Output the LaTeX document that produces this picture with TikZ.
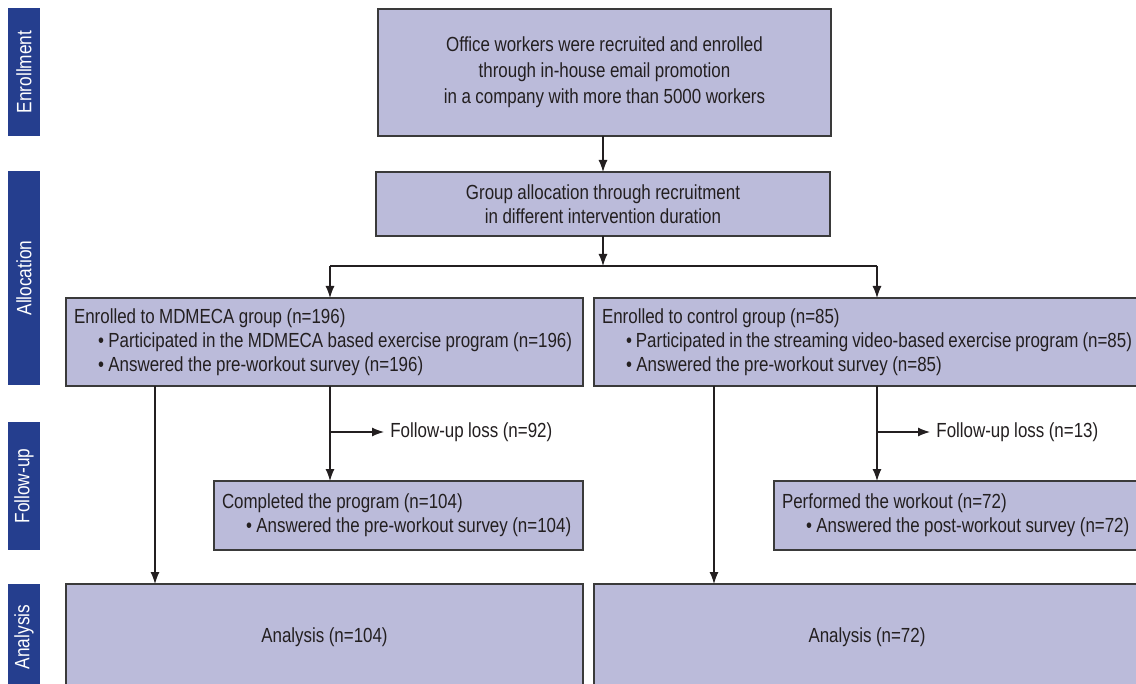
\documentclass[tikz,border=0pt]{standalone}
\usepackage{fontspec}
\setmainfont[FakeStretch=0.83, WordSpace=0.95]{Liberation Sans}
\usetikzlibrary{positioning,arrows.meta}
\definecolor{boxfill}{HTML}{BBBBDA}
\definecolor{boxline}{HTML}{3A3A3A}
\definecolor{stageblue}{HTML}{253E8E}
\definecolor{txt}{HTML}{231F20}

\begin{document}
\begin{tikzpicture}[x=0.5pt, y=-0.5pt,
    box/.style={draw=boxline, fill=boxfill, line width=0.6pt, rectangle, inner xsep=4pt, inner ysep=0pt, outer sep=0pt, text=txt, font=\fontsize{10.2}{12}\selectfont},
    stage/.style={fill=stageblue, rectangle, inner sep=0pt, minimum height=16pt, rotate=90, text=white, font=\fontsize{10.4}{12}\selectfont},
    loss/.style={anchor=west, inner sep=0pt, text=txt, font=\fontsize{10.2}{12}\selectfont},
    arr/.style={draw=txt, line width=0.6pt, -{Latex[length=6pt,width=4.5pt]}},
    link/.style={draw=txt, line width=0.6pt}]
    \useasboundingbox (0,0) rectangle (1136,684);
    \fill[white] (0,0) rectangle (1136,684);

    % stage bars
    \node [stage, minimum width=64pt] (sEnroll) at (24,72) {Enrollment};
    \node [stage, minimum width=107pt] (sAlloc) at (24,278) {Allocation};
    \node [stage, minimum width=64pt] (sFollow) at (24,486) {Follow-up};
    \node [stage, minimum width=53pt] (sAnalysis) at (24,637) {Analysis};

    % boxes
    \node [box, text width=218.5pt, minimum height=63.5pt, align=flush center, font=\fontsize{10.2}{13}\selectfont] (enroll) at (604.5,72.5) {Office workers were recruited and enrolled\\through in-house email promotion\\in a company with more than 5000 workers};
    \node [box, text width=219pt, minimum height=32pt, align=flush center] (alloc) at (603,204) {Group allocation through recruitment\\in different intervention duration};
    \node [box, anchor=north west, text width=250.5pt, minimum height=44pt, align=flush left] (grpA) at (66,298) {Enrolled to MDMECA group (n=196)\\\hspace*{12pt}• Participated in the MDMECA based exercise program (n=196)\\\hspace*{12pt}• Answered the pre-workout survey (n=196)};
    \node [box, anchor=north west, text width=265pt, minimum height=44pt, align=flush left] (grpB) at (594,298) {Enrolled to control group (n=85)\\\hspace*{12pt}• Participated in the streaming video-based exercise program (n=85)\\\hspace*{12pt}• Answered the pre-workout survey (n=85)};
    \node [box, anchor=north west, text width=176.5pt, minimum height=34.5pt, align=flush left] (compA) at (214,481) {Completed the program (n=104)\\\hspace*{12pt}• Answered the pre-workout survey (n=104)};
    \node [box, anchor=north west, text width=175pt, minimum height=34.5pt, align=flush left] (compB) at (774,481) {Performed the workout (n=72)\\\hspace*{12pt}• Answered the post-workout survey (n=72)};
    \node [box, anchor=north west, text width=250.5pt, minimum height=53pt, align=flush center] (anaA) at (66,584) {Analysis (n=104)};
    \node [box, anchor=north west, text width=265pt, minimum height=53pt, align=flush center] (anaB) at (594,584) {Analysis (n=72)};

    \node [loss] (lossA) at (390,432) {Follow-up loss (n=92)};
    \node [loss] (lossB) at (936,432) {Follow-up loss (n=13)};

    \coordinate (splitL) at (330,266);
    \coordinate (splitR) at (877,266);
    \coordinate (dropA) at (155,0);
    \coordinate (dropB) at (714,0);

    % connectors
    \draw [arr] (enroll.south -| alloc) -- (alloc.north);
    \draw [arr] (alloc.south) -- (alloc.south |- splitL);
    \draw [link] (splitL) -- (splitR);
    \draw [arr] (splitL) -- (splitL |- grpA.north);
    \draw [arr] (splitR) -- (splitR |- grpB.north);
    \draw [arr] (grpA.south -| dropA) -- (anaA.north -| dropA);
    \draw [arr] (grpA.south -| splitL) -- (compA.north -| splitL);
    \draw [arr] (lossA.west -| splitL) -- ([xshift=-3pt]lossA.west);
    \draw [arr] (grpB.south -| dropB) -- (anaB.north -| dropB);
    \draw [arr] (grpB.south -| splitR) -- (compB.north -| splitR);
    \draw [arr] (lossB.west -| splitR) -- ([xshift=-3pt]lossB.west);
\end{tikzpicture}
\end{document}
